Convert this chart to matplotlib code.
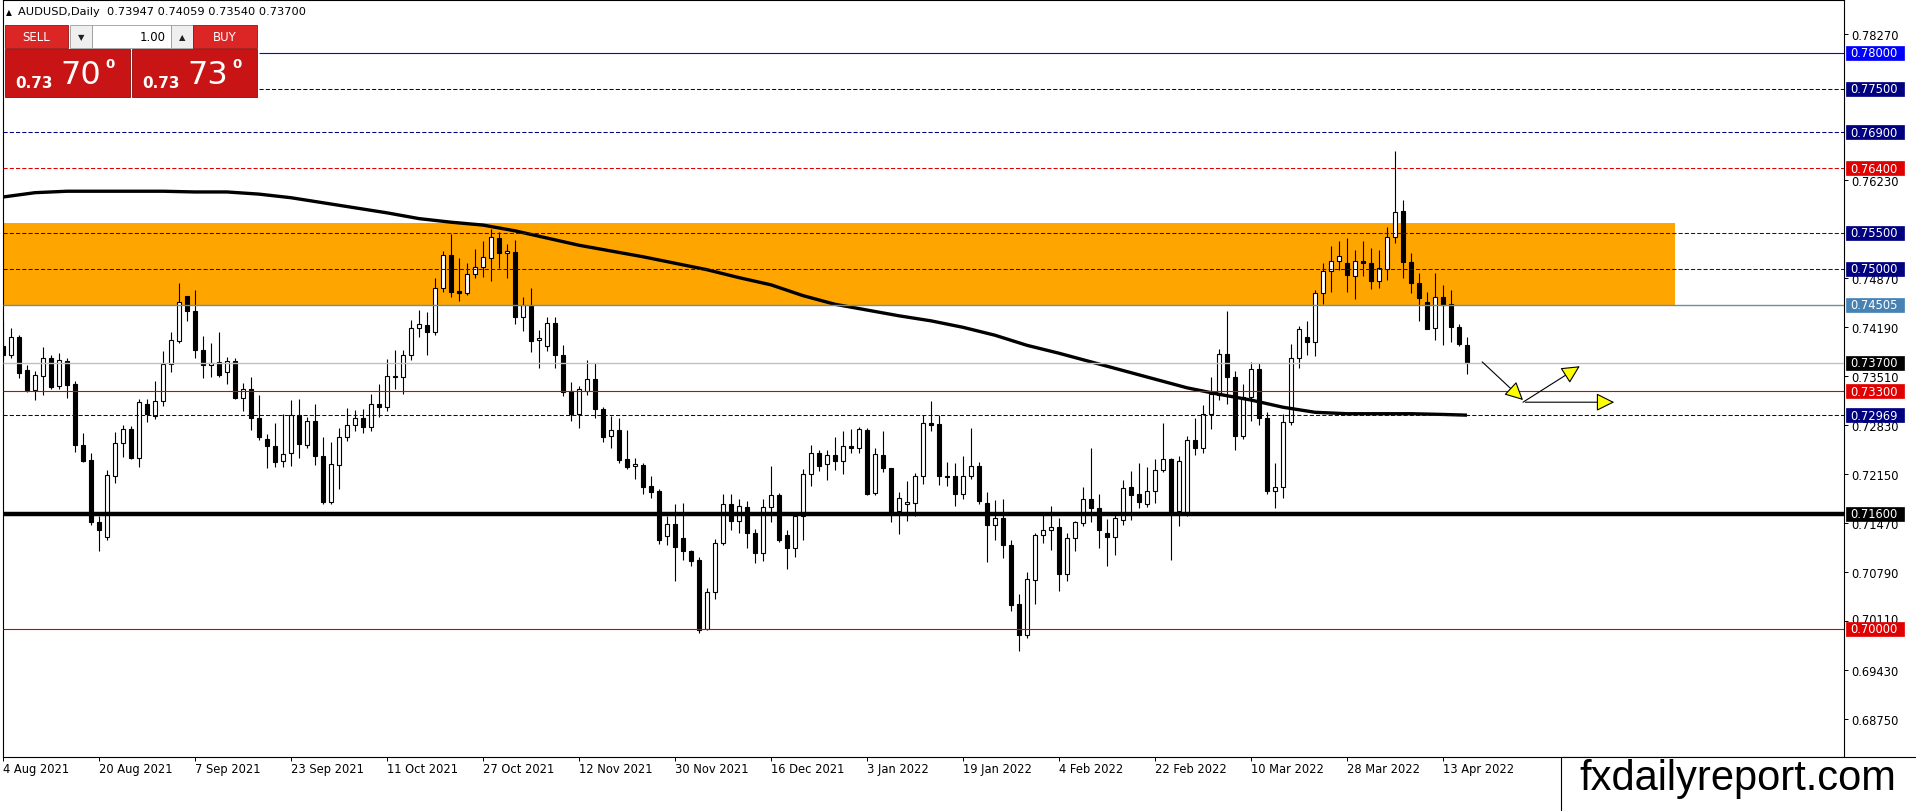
import numpy as np
import matplotlib
matplotlib.use('Agg')
import matplotlib.pyplot as plt
from matplotlib.patches import Rectangle
from matplotlib.transforms import blended_transform_factory, ScaledTranslation

# daily AUDUSD candles (one bar per trading day, 4 Aug 2021 .. 18 Apr 2022)
opens = [
    0.7393, 0.7381, 0.7406, 0.7360, 0.7332, 0.7352, 0.7377, 0.7337, 0.7372, 0.7340,
    0.7256, 0.7235, 0.7149, 0.7128, 0.7212, 0.7259, 0.7278, 0.7238, 0.7313, 0.7296,
    0.7316, 0.7368, 0.7400, 0.7462, 0.7442, 0.7388, 0.7366, 0.7371, 0.7357, 0.7372,
    0.7321, 0.7334, 0.7293, 0.7264, 0.7254, 0.7233, 0.7244, 0.7297, 0.7256, 0.7289,
    0.7240, 0.7177, 0.7228, 0.7267, 0.7284, 0.7293, 0.7281, 0.7313, 0.7309, 0.7352,
    0.7350, 0.7380, 0.7418, 0.7422, 0.7413, 0.7473, 0.7519, 0.7469, 0.7467, 0.7493,
    0.7503, 0.7515, 0.7543, 0.7522, 0.7524, 0.7433, 0.7449, 0.7401, 0.7393, 0.7425,
    0.7380, 0.7330, 0.7298, 0.7331, 0.7347, 0.7306, 0.7268, 0.7277, 0.7236, 0.7226,
    0.7228, 0.7199, 0.7191, 0.7129, 0.7146, 0.7127, 0.7109, 0.7096, 0.7000, 0.7052,
    0.7120, 0.7174, 0.7150, 0.7169, 0.7133, 0.7105, 0.7170, 0.7186, 0.7131, 0.7112,
    0.7157, 0.7215, 0.7244, 0.7229, 0.7241, 0.7233, 0.7254, 0.7252, 0.7277, 0.7189,
    0.7242, 0.7223, 0.7164, 0.7173, 0.7175, 0.7212, 0.7286, 0.7285, 0.7213, 0.7212,
    0.7187, 0.7212, 0.7227, 0.7175, 0.7145, 0.7154, 0.7117, 0.7035, 0.6992, 0.7068,
    0.7130, 0.7138, 0.7142, 0.7077, 0.7127, 0.7147, 0.7181, 0.7168, 0.7134, 0.7128,
    0.7152, 0.7197, 0.7187, 0.7173, 0.7191, 0.7221, 0.7236, 0.7164, 0.7161, 0.7263,
    0.7251, 0.7298, 0.7325, 0.7382, 0.7350, 0.7268, 0.7322, 0.7361, 0.7293, 0.7191,
    0.7197, 0.7288, 0.7377, 0.7406, 0.7398, 0.7466, 0.7497, 0.7511, 0.7508, 0.7490,
    0.7511, 0.7509, 0.7484, 0.7500, 0.7544, 0.7581, 0.7510, 0.7481, 0.7454, 0.7418,
    0.7461, 0.7451, 0.7420, 0.73947,
]
highs = [
    0.7428, 0.7418, 0.7408, 0.7367, 0.7358, 0.7392, 0.7380, 0.7383, 0.7376, 0.7344,
    0.7272, 0.7245, 0.7157, 0.7221, 0.7274, 0.7283, 0.7282, 0.7319, 0.7320, 0.7344,
    0.7386, 0.7413, 0.7481, 0.7463, 0.7471, 0.7407, 0.7397, 0.7412, 0.7378, 0.7376,
    0.7342, 0.7350, 0.7325, 0.7271, 0.7286, 0.7299, 0.7318, 0.7319, 0.7294, 0.7313,
    0.7267, 0.7260, 0.7279, 0.7307, 0.7304, 0.7306, 0.7326, 0.7340, 0.7375, 0.7388,
    0.7387, 0.7429, 0.7443, 0.7440, 0.7488, 0.7525, 0.7549, 0.7515, 0.7508, 0.7528,
    0.7539, 0.7556, 0.7552, 0.7535, 0.7540, 0.7461, 0.7473, 0.7415, 0.7433, 0.7434,
    0.7395, 0.7343, 0.7338, 0.7374, 0.7370, 0.7308, 0.7296, 0.7293, 0.7276, 0.7238,
    0.7231, 0.7212, 0.7194, 0.7157, 0.7174, 0.7175, 0.7110, 0.7100, 0.7057, 0.7125,
    0.7188, 0.7188, 0.7181, 0.7178, 0.7139, 0.7181, 0.7227, 0.7189, 0.7137, 0.7162,
    0.7222, 0.7255, 0.7248, 0.7248, 0.7266, 0.7275, 0.7278, 0.7281, 0.7279, 0.7251,
    0.7275, 0.7224, 0.7190, 0.7205, 0.7217, 0.7297, 0.7316, 0.7297, 0.7232, 0.7230,
    0.7240, 0.7279, 0.7232, 0.7190, 0.7179, 0.7181, 0.7123, 0.7049, 0.7079, 0.7133,
    0.7158, 0.7171, 0.7154, 0.7133, 0.7150, 0.7197, 0.7251, 0.7187, 0.7153, 0.7159,
    0.7207, 0.7220, 0.7231, 0.7225, 0.7236, 0.7286, 0.7237, 0.7240, 0.7268, 0.7293,
    0.7311, 0.7350, 0.7389, 0.7441, 0.7358, 0.7340, 0.7371, 0.7370, 0.7301, 0.7231,
    0.7299, 0.7396, 0.7421, 0.7428, 0.7471, 0.7509, 0.7532, 0.7539, 0.7543, 0.7526,
    0.7539, 0.7529, 0.7527, 0.7558, 0.7664, 0.7596, 0.7522, 0.7495, 0.7468, 0.7495,
    0.7478, 0.7471, 0.7423, 0.74059,
]
lows = [
    0.7373, 0.7376, 0.7349, 0.7329, 0.7318, 0.7325, 0.7333, 0.7333, 0.7321, 0.7246,
    0.7232, 0.7145, 0.7108, 0.7123, 0.7203, 0.7239, 0.7236, 0.7225, 0.7287, 0.7291,
    0.7310, 0.7357, 0.7397, 0.7428, 0.7377, 0.7348, 0.7350, 0.7350, 0.7340, 0.7320,
    0.7303, 0.7276, 0.7263, 0.7223, 0.7225, 0.7225, 0.7226, 0.7238, 0.7252, 0.7228,
    0.7173, 0.7174, 0.7194, 0.7261, 0.7275, 0.7272, 0.7275, 0.7294, 0.7303, 0.7333,
    0.7326, 0.7374, 0.7406, 0.7381, 0.7408, 0.7468, 0.7461, 0.7456, 0.7464, 0.7487,
    0.7489, 0.7483, 0.7502, 0.7488, 0.7423, 0.7414, 0.7385, 0.7362, 0.7386, 0.7362,
    0.7324, 0.7289, 0.7279, 0.7325, 0.7293, 0.7260, 0.7252, 0.7230, 0.7222, 0.7208,
    0.7187, 0.7182, 0.7118, 0.7117, 0.7066, 0.7096, 0.7087, 0.6995, 0.6999, 0.7042,
    0.7116, 0.7137, 0.7134, 0.7113, 0.7092, 0.7095, 0.7148, 0.7121, 0.7083, 0.7100,
    0.7124, 0.7198, 0.7220, 0.7207, 0.7221, 0.7215, 0.7245, 0.7244, 0.7186, 0.7186,
    0.7218, 0.7148, 0.7132, 0.7150, 0.7157, 0.7201, 0.7275, 0.7200, 0.7198, 0.7171,
    0.7181, 0.7208, 0.7174, 0.7093, 0.7124, 0.7098, 0.7025, 0.6970, 0.6988, 0.7035,
    0.7119, 0.7110, 0.7053, 0.7067, 0.7109, 0.7143, 0.7149, 0.7112, 0.7088, 0.7103,
    0.7145, 0.7151, 0.7168, 0.7170, 0.7175, 0.7218, 0.7096, 0.7143, 0.7157, 0.7241,
    0.7244, 0.7278, 0.7318, 0.7313, 0.7248, 0.7264, 0.7289, 0.7283, 0.7188, 0.7168,
    0.7182, 0.7284, 0.7362, 0.7381, 0.7379, 0.7451, 0.7468, 0.7498, 0.7468, 0.7458,
    0.7490, 0.7472, 0.7474, 0.7485, 0.7536, 0.7488, 0.7467, 0.7428, 0.7416, 0.7402,
    0.7394, 0.7398, 0.7393, 0.73540,
]
closes = [
    0.7381, 0.7406, 0.7356, 0.7332, 0.7353, 0.7376, 0.7336, 0.7374, 0.7339, 0.7255,
    0.7234, 0.7148, 0.7138, 0.7214, 0.7259, 0.7278, 0.7238, 0.7315, 0.7298, 0.7316,
    0.7368, 0.7401, 0.7454, 0.7441, 0.7387, 0.7367, 0.7370, 0.7353, 0.7372, 0.7321,
    0.7334, 0.7293, 0.7266, 0.7254, 0.7232, 0.7243, 0.7297, 0.7257, 0.7289, 0.7240,
    0.7177, 0.7229, 0.7266, 0.7284, 0.7293, 0.7281, 0.7313, 0.7309, 0.7351, 0.7350,
    0.7380, 0.7418, 0.7423, 0.7413, 0.7473, 0.7519, 0.7468, 0.7467, 0.7493, 0.7503,
    0.7517, 0.7544, 0.7522, 0.7525, 0.7433, 0.7450, 0.7400, 0.7404, 0.7425, 0.7380,
    0.7329, 0.7298, 0.7333, 0.7347, 0.7305, 0.7267, 0.7277, 0.7235, 0.7225, 0.7229,
    0.7197, 0.7190, 0.7123, 0.7146, 0.7114, 0.7108, 0.7095, 0.6999, 0.7052, 0.7120,
    0.7174, 0.7150, 0.7171, 0.7133, 0.7105, 0.7170, 0.7186, 0.7124, 0.7112, 0.7157,
    0.7215, 0.7244, 0.7226, 0.7241, 0.7233, 0.7254, 0.7252, 0.7278, 0.7188, 0.7243,
    0.7223, 0.7160, 0.7182, 0.7176, 0.7212, 0.7286, 0.7284, 0.7212, 0.7211, 0.7187,
    0.7212, 0.7227, 0.7178, 0.7145, 0.7154, 0.7116, 0.7033, 0.6992, 0.7069, 0.7131,
    0.7138, 0.7142, 0.7077, 0.7127, 0.7148, 0.7181, 0.7168, 0.7138, 0.7128, 0.7154,
    0.7196, 0.7186, 0.7177, 0.7191, 0.7221, 0.7236, 0.7164, 0.7233, 0.7263, 0.7251,
    0.7298, 0.7326, 0.7382, 0.7350, 0.7268, 0.7322, 0.7361, 0.7293, 0.7191, 0.7197,
    0.7288, 0.7377, 0.7416, 0.7398, 0.7466, 0.7497, 0.7511, 0.7518, 0.7491, 0.7511,
    0.7508, 0.7484, 0.7502, 0.7544, 0.7579, 0.7510, 0.7480, 0.7460, 0.7417, 0.7461,
    0.7450, 0.7420, 0.7396, 0.73700,
]

# moving average line, read every 4th bar
ma_bars = [0, 4, 8, 12, 16, 20, 24, 28, 32, 36, 40, 44, 48, 52, 56, 60, 64, 68, 72, 76,
           80, 84, 88, 92, 96, 100, 104, 108, 112, 116, 120, 124, 128, 132, 136, 140,
           144, 148, 152, 156, 160, 164, 168, 172, 176, 180, 183]
ma_values = [0.7600, 0.7606, 0.7608, 0.7608, 0.7608, 0.7608, 0.7607, 0.7607, 0.7604, 0.7599,
             0.7592, 0.7585, 0.7578, 0.7570, 0.7565, 0.7561, 0.7553, 0.7543, 0.7533, 0.7525,
             0.7517, 0.7508, 0.7499, 0.7488, 0.7478, 0.7463, 0.7451, 0.7443, 0.7435, 0.7428,
             0.7419, 0.7408, 0.7394, 0.7383, 0.7371, 0.7359, 0.7347, 0.7335, 0.7326, 0.7318,
             0.7308, 0.7301, 0.7299, 0.7299, 0.7299, 0.7298, 0.7297]

date_labels = ['4 Aug 2021', '20 Aug 2021', '7 Sep 2021', '23 Sep 2021', '11 Oct 2021',
               '27 Oct 2021', '12 Nov 2021', '30 Nov 2021', '16 Dec 2021', '3 Jan 2022',
               '19 Jan 2022', '4 Feb 2022', '22 Feb 2022', '10 Mar 2022', '28 Mar 2022',
               '13 Apr 2022']

# price scale labels that are not hidden behind the level boxes
price_ticks = [0.78270, 0.76230, 0.74870, 0.74190, 0.73510, 0.72830, 0.72150,
               0.71470, 0.70790, 0.70110, 0.69430, 0.68750]

# horizontal levels drawn on the chart
level_prices = [0.7800, 0.7750, 0.7690, 0.7640, 0.7550, 0.7500, 0.74505,
                0.7370, 0.7330, 0.72969, 0.7160, 0.7000]
level_texts = ['0.78000', '0.77500', '0.76900', '0.76400', '0.75500', '0.75000', '0.74505',
               '0.73700', '0.73300', '0.72969', '0.71600', '0.70000']

zone_low, zone_high = 0.74505, 0.7564

# hand drawn arrows (bar, price)
arrow_from = [(184.9, 0.7371), (190.0, 0.7315), (190.3, 0.7315)]
arrow_to = [(190.0, 0.7318), (197.1, 0.7365), (201.4, 0.7315)]

header = 'AUDUSD,Daily  0.73947 0.74059 0.73540 0.73700'

plt.rcParams['font.family'] = ['DejaVu Sans']

W, H = 1916, 812
fig = plt.figure(figsize=(W / 100, H / 100), dpi=100)
fig.patch.set_facecolor('white')
ax_w = 1841.5
ax = fig.add_axes([2.5 / W, 54 / H, ax_w / W, 757 / H])
ax.set_facecolor('white')

x_left = -0.0625
x_right = x_left + ax_w / 8
y_low, y_high = 0.682222, 0.787361
ax.set_xlim(x_left, x_right)
ax.set_ylim(y_low, y_high)
px_price = (y_high - y_low) / 757

NAVY = '#000080'
RED = '#e00000'
DASH = (0, (4, 2))
styles = {
    '0.78000': dict(color='#0000ff', ls='-', lw=0.8, box='#0000ff', start=32),
    '0.77500': dict(color=NAVY, ls=DASH, lw=0.75, box=NAVY, start=32),
    '0.76900': dict(color=NAVY, ls=DASH, lw=0.75, box=NAVY),
    '0.76400': dict(color=RED, ls=DASH, lw=0.75, box=RED),
    '0.75500': dict(color='#20104a', ls=DASH, lw=0.75, box=NAVY),
    '0.75000': dict(color='#20104a', ls=DASH, lw=0.75, box=NAVY),
    '0.74505': dict(color='#6a8fa8', ls='-', lw=1.0, box='#4682b4'),
    '0.73700': dict(color='#c0c0c0', ls='-', lw=1.0, box='#000000'),
    '0.73300': dict(color='#d80000', ls='-', lw=0.8, box=RED),
    '0.72969': dict(color=NAVY, ls=DASH, lw=0.75, box=NAVY),
    '0.71600': dict(color='black', ls='-', lw=3.2, box='#000000'),
    '0.70000': dict(color='#d80000', ls='-', lw=0.8, box=RED),
}

# supply zone
ax.add_patch(Rectangle((x_left - 1, zone_low), 209 - x_left + 1, zone_high - zone_low,
                       facecolor='#ffa500', edgecolor='none', zorder=1))

# candles
o = np.array(opens)
h = np.array(highs)
l = np.array(lows)
c = np.array(closes)
idx = np.arange(len(c))
up = c >= o
ax.vlines(idx, l, h, color='black', lw=0.8, zorder=3)
body = np.maximum(np.abs(c - o), 0.00002)
ax.bar(idx, body, bottom=np.minimum(o, c), width=0.62,
       color=np.where(up, 'white', 'black'), edgecolor='black', linewidth=0.8, zorder=4)

# moving average
ax.plot(ma_bars, ma_values, color='black', lw=2.4, solid_capstyle='butt', zorder=5)

# levels and price boxes
trans = blended_transform_factory(ax.transAxes, ax.transData)
for price, txt in zip(level_prices, level_texts):
    st = styles[txt]
    start = st.get('start', x_left)
    ax.hlines(price, start, x_right, colors=st['color'], linestyles=st['ls'],
              linewidth=st['lw'], zorder=6)
for price, txt in zip(level_prices, level_texts):
    st = styles[txt]
    ax.add_patch(Rectangle((1.0 + 2 / ax_w, price - 7 * px_price), 58 / ax_w, 14 * px_price,
                           transform=trans, fc=st['box'], ec=st['box'], lw=0.5,
                           zorder=11, clip_on=False))
    ax.text(1.0 + 6.5 / ax_w, price, txt, transform=trans, ha='left', va='center',
            fontsize=8.3, color='white', zorder=12, clip_on=False)

# arrows
for (x0, y0), (x1, y1) in zip(arrow_from, arrow_to):
    ax.annotate('', xy=(x1, y1), xytext=(x0, y0),
                arrowprops=dict(arrowstyle='-|>,head_length=0.8,head_width=0.4',
                                fc='#ffff00', ec='black', lw=0.8,
                                shrinkA=0, shrinkB=0, mutation_scale=14),
                zorder=8)

# axes
for sp in ax.spines.values():
    sp.set_color('black')
    sp.set_linewidth(0.8)
ax.yaxis.set_ticks_position('right')
ax.set_yticks(price_ticks)
ax.set_yticklabels([f'{v:.5f}' for v in price_ticks])
ax.tick_params(axis='y', right=True, left=False, length=2.9, width=0.72,
               pad=2.3, labelsize=8.3, direction='out')
# the label right above the 0.70000 box sits a little higher, as in the terminal
for lab in ax.get_yticklabels():
    if lab.get_text() == '0.70110':
        lab.set_transform(lab.get_transform() + ScaledTranslation(0, 3.5 / 100, fig.dpi_scale_trans))
ax.set_xticks(list(range(0, 12 * len(date_labels), 12)))
ax.set_xticklabels(date_labels)
for lab in ax.get_xticklabels():
    lab.set_ha('left')
ax.tick_params(axis='x', bottom=True, length=2.9, width=0.72, pad=0.5,
               labelsize=8.3, direction='out')

# overlay in pixel coordinates for header, trade panel and logo
ov = fig.add_axes([0, 0, 1, 1])
ov.set_xlim(0, W)
ov.set_ylim(H, 0)
ov.axis('off')
ov.patch.set_alpha(0)
ov.set_zorder(20)

ov.text(6, 12.5, '\u25b2', fontsize=5.5, ha='left', va='center', color='black')
ov.text(18, 12, header, fontsize=8.2, ha='left', va='center', color='black')

red_btn = '#dc2626'
red_big = '#c81414'
ov.add_patch(Rectangle((5, 26), 63, 23, fc=red_btn, ec='#9a1010', lw=0.6))
ov.text(36.5, 37.5, 'SELL', color='white', fontsize=8.5, ha='center', va='center')
ov.add_patch(Rectangle((70, 26), 22, 23, fc='#efefef', ec='#9a9a9a', lw=0.6))
ov.text(81, 37.5, '\u25bc', color='#202020', fontsize=6, ha='center', va='center')
ov.add_patch(Rectangle((92, 26), 79, 23, fc='white', ec='#9a9a9a', lw=0.6))
ov.text(166, 37.5, '1.00', color='black', fontsize=8.5, ha='right', va='center')
ov.add_patch(Rectangle((171, 26), 22, 23, fc='#efefef', ec='#9a9a9a', lw=0.6))
ov.text(182, 37.5, '\u25b2', color='#202020', fontsize=6, ha='center', va='center')
ov.add_patch(Rectangle((193, 26), 64, 23, fc=red_btn, ec='#9a1010', lw=0.6))
ov.text(225, 37.5, 'BUY', color='white', fontsize=8.5, ha='center', va='center')

for x0, big in [(5, '70'), (132, '73')]:
    ov.add_patch(Rectangle((x0, 50), 125, 48, fc=red_big, ec='#8a0c0c', lw=0.6))
    ov.text(x0 + 10, 84, '0.73', color='white', fontsize=11, fontweight='bold',
            ha='left', va='center')
    ov.text(x0 + 55, 76, big, color='white', fontsize=23, ha='left', va='center')
    ov.text(x0 + 100, 65, '0', color='white', fontsize=9.5, fontweight='bold',
            ha='left', va='center')

ov.add_patch(Rectangle((1561, 758), 370, 60, fc='white', ec='black', lw=0.8))
ov.text(1738, 779, 'fxdailyreport.com', family=['Liberation Sans', 'DejaVu Sans'],
        fontsize=30, color='black', ha='center', va='center')

fig.savefig('out.png', dpi=100, facecolor='white')
